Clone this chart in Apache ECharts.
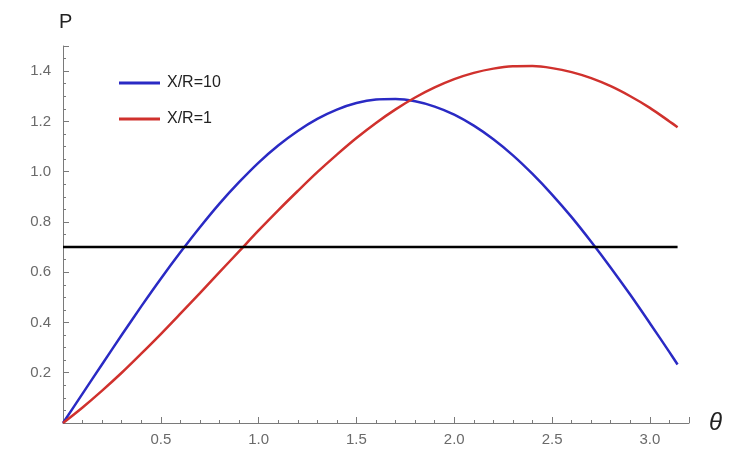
<!DOCTYPE html>
<html>
<head>
<meta charset="utf-8">
<script src="https://cdn.jsdelivr.net/npm/echarts@6/dist/echarts.min.js"></script>
<style>
  html, body { margin: 0; padding: 0; background: #fff; }
  #main { width: 741px; height: 453px; }
</style>
</head>
<body>
<div id="main"></div>
<script>
// θ samples (rad)
const thetas = [0, 0.1, 0.2, 0.3, 0.4, 0.5, 0.6, 0.7, 0.8, 0.9, 1.0, 1.1, 1.2, 1.3, 1.4, 1.5,
  1.6, 1.7, 1.8, 1.9, 2.0, 2.1, 2.2, 2.3, 2.4, 2.5, 2.6, 2.7, 2.8, 2.9, 3.0, 3.1, 3.1416]
// X/R = 10
const pHigh = [0, 0.117, 0.234, 0.350, 0.464, 0.574, 0.679, 0.779, 0.873, 0.958, 1.036, 1.104,
  1.162, 1.210, 1.247, 1.273, 1.287, 1.289, 1.280, 1.259, 1.227, 1.183, 1.129, 1.065, 0.991,
  0.909, 0.819, 0.721, 0.618, 0.510, 0.397, 0.282, 0.233]
// X/R = 1
const pLow = [0, 0.062, 0.129, 0.200, 0.276, 0.354, 0.435, 0.517, 0.600, 0.683, 0.766, 0.846,
  0.923, 0.998, 1.068, 1.134, 1.194, 1.248, 1.295, 1.335, 1.368, 1.393, 1.410, 1.419, 1.420,
  1.412, 1.396, 1.372, 1.340, 1.300, 1.254, 1.200, 1.177]
// horizontal level
const levelTheta = [0, 3.1416]
const levelP = [0.7, 0.7]

const pairs = (xs, ys) => xs.map((x, i) => [x, ys[i]])

const chart = echarts.init(document.getElementById('main'))
const axisGray = '#7a7a7a'
const labelGray = '#6a6a6a'

chart.setOption({
  animation: false,
  textStyle: { fontFamily: 'Liberation Sans, Arial, sans-serif' },
  grid: { left: 63, right: 52, top: 46, bottom: 30, containLabel: false },
  legend: {
    orient: 'vertical',
    left: 114,
    top: 70,
    icon: 'rect',
    itemWidth: 41,
    itemHeight: 3,
    itemGap: 20,
    data: ['X/R=10', 'X/R=1'],
    textStyle: { fontSize: 16, color: '#222', padding: [0, 0, 0, 2] }
  },
  xAxis: {
    type: 'value',
    min: 0,
    max: 3.2,
    interval: 0.5,
    name: 'θ',
    nameLocation: 'end',
    nameGap: 20,
    nameTextStyle: { fontSize: 24, fontStyle: 'italic', color: '#222', verticalAlign: 'middle' },
    axisLine: { onZero: true, lineStyle: { color: axisGray, width: 1 } },
    axisTick: { inside: true, length: 6, lineStyle: { color: axisGray } },
    minorTick: { show: true, splitNumber: 5, length: 3, lineStyle: { color: axisGray } },
    splitLine: { show: false },
    axisLabel: {
      fontSize: 15,
      color: labelGray,
      margin: 9,
      formatter: v => (v === 0 || v > 3.1) ? '' : v.toFixed(1)
    }
  },
  yAxis: {
    type: 'value',
    min: 0,
    max: 1.5,
    interval: 0.2,
    name: 'P',
    nameLocation: 'end',
    nameGap: 14,
    nameTextStyle: { fontSize: 20, color: '#222', align: 'left', padding: [0, 0, 0, -4] },
    axisLine: { onZero: true, lineStyle: { color: axisGray, width: 1 } },
    axisTick: { inside: true, length: 6, lineStyle: { color: axisGray } },
    minorTick: { show: true, splitNumber: 4, length: 3, lineStyle: { color: axisGray } },
    splitLine: { show: false },
    axisLabel: {
      fontSize: 15,
      color: labelGray,
      margin: 12,
      formatter: v => (v === 0 || v > 1.45) ? '' : v.toFixed(1)
    }
  },
  series: [
    {
      name: 'X/R=10',
      type: 'line',
      data: pairs(thetas, pHigh),
      smooth: 0.3,
      symbol: 'none',
      lineStyle: { color: '#2a2ac4', width: 2.5 },
      itemStyle: { color: '#2a2ac4' }
    },
    {
      name: 'X/R=1',
      type: 'line',
      data: pairs(thetas, pLow),
      smooth: 0.3,
      symbol: 'none',
      lineStyle: { color: '#d0312d', width: 2.5 },
      itemStyle: { color: '#d0312d' }
    },
    {
      name: 'level',
      type: 'line',
      data: pairs(levelTheta, levelP),
      symbol: 'none',
      lineStyle: { color: '#000', width: 2.5 },
      itemStyle: { color: '#000' }
    }
  ]
})
</script>
</body>
</html>
